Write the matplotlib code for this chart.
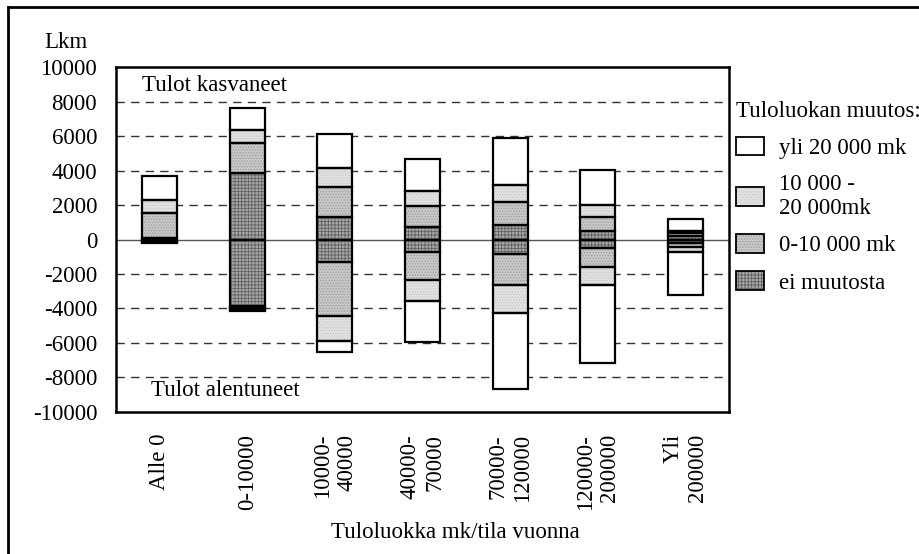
import numpy as np
import matplotlib
matplotlib.use("Agg")
import matplotlib.pyplot as plt
from matplotlib.patches import Patch
from matplotlib.legend_handler import HandlerTuple
from matplotlib.lines import Line2D

plt.rcParams['font.family'] = ['Liberation Serif', 'DejaVu Serif']
plt.rcParams['hatch.linewidth'] = 0.6

categories = ["Alle 0", "0-10000", "10000-\n40000", "40000-\n70000",
              "70000-\n120000", "120000-\n200000", "Yli\n200000"]

# ei muutosta is split evenly above and below zero
ei_muutosta = [90, 3840, 1317, 727, 814, 503, 190]

# income increased (stacked upward)
up_0_10 = [1457, 1743, 1744, 1198, 1355, 831, 160]
up_10_20 = [755, 756, 1106, 872, 971, 641, 150]
up_yli20 = [1378, 1297, 1957, 1901, 2750, 2035, 680]

# income decreased (stacked downward)
down_0_10 = [50, 120, 3139, 1610, 1802, 1070, 240]
down_10_20 = [30, 80, 1435, 1262, 1651, 1064, 290]
down_yli20 = [30, 90, 641, 2343, 4396, 4553, 2520]

legend_labels = ["yli 20 000 mk", "10 000 -\n20 000mk", "0-10 000 mk", "ei muutosta"]

# (facecolor, hatch, hatch colour) for dark, medium, light, white
styles = [
    ("#a8a8a8", "+++++", "#606060"),
    ("#c8c8c8", "......", "#9c9c9c"),
    ("#e2e2e2", "......", "#c4c4c4"),
    ("white", "", "white"),
]

FS = 16.5
W, H = 919, 554
fig = plt.figure(figsize=(W / 100, H / 100), dpi=100)
ax = fig.add_axes([116 / W, 1 - 411.7 / H, 613 / W, 344.4 / H])

x = np.arange(len(categories))
width = 0.4

up_series = [ei_muutosta, up_0_10, up_10_20, up_yli20]
down_series = [ei_muutosta, down_0_10, down_10_20, down_yli20]

bottom_up = np.zeros(len(x))
bottom_dn = np.zeros(len(x))
for (fc, hatch, hc), up, dn in zip(styles, up_series, down_series):
    up = np.array(up, dtype=float)
    dn = -np.array(dn, dtype=float)
    for vals, bot in ((up, bottom_up), (dn, bottom_dn)):
        ax.bar(x, vals, width, bottom=bot, color=fc, hatch=hatch,
               edgecolor=hc, linewidth=0, zorder=2)
        ax.bar(x, vals, width, bottom=bot, facecolor='none',
               edgecolor='black', linewidth=1.6, zorder=3)
    bottom_up = bottom_up + up
    bottom_dn = bottom_dn + dn

for yv in [-8000, -6000, -4000, -2000, 2000, 4000, 6000, 8000]:
    ax.axhline(yv, color='#333333', lw=1, ls=(0, (6, 4.5)), zorder=1)
ax.axhline(0, color='#555555', lw=1, zorder=1)

ax.set_xlim(-0.5, len(categories) - 0.5)
ax.set_ylim(-10000, 10000)
ax.set_yticks(np.arange(-10000, 10001, 2000))
ax.set_yticklabels([str(v) for v in np.arange(-10000, 10001, 2000)], fontsize=FS)
ax.set_xticks(x)
ax.set_xticklabels(categories, rotation=90, fontsize=FS, va='top', ha='center',
                   multialignment='right')
ax.tick_params(axis='y', length=0, pad=13.5)
ax.tick_params(axis='x', length=0, pad=16)
for s in ax.spines.values():
    s.set_linewidth(1.8)

ax.text(-0.2, 8970, "Tulot kasvaneet", fontsize=FS, va='center', ha='left')
ax.text(-0.1, -8760, "Tulot alentuneet", fontsize=FS, va='center', ha='left')

fig.text(66 / W, 1 - 43 / H, "Lkm", fontsize=FS, ha='center', va='center')
fig.text(455 / W, 1 - 533 / H, "Tuloluokka mk/tila vuonna", fontsize=FS,
         ha='center', va='center')

# legend, top to bottom: white, light, medium, dark
handles = []
for fc, hatch, hc in styles[::-1]:
    handles.append((Patch(facecolor=fc, hatch=hatch, edgecolor=hc, linewidth=0),
                    Patch(facecolor='none', edgecolor='black', linewidth=1.3)))
leg = fig.legend(handles, legend_labels, loc='upper left',
                 bbox_to_anchor=(731 / W, 1 - 96 / H), frameon=False,
                 fontsize=FS, title="Tuloluokan muutos:", title_fontsize=FS,
                 alignment='left', borderpad=0.2, borderaxespad=0,
                 handlelength=1.25, handleheight=0.85, handletextpad=0.65,
                 labelspacing=0.66, handler_map={tuple: HandlerTuple(ndivide=1)})

# outer frame (top and left edges only)
fig.add_artist(Line2D([8 / W, 1], [1 - 7 / H, 1 - 7 / H], color='black', lw=2))
fig.add_artist(Line2D([8 / W, 8 / W], [0, 1 - 7 / H], color='black', lw=2))

fig.savefig("out.png", dpi=100)
